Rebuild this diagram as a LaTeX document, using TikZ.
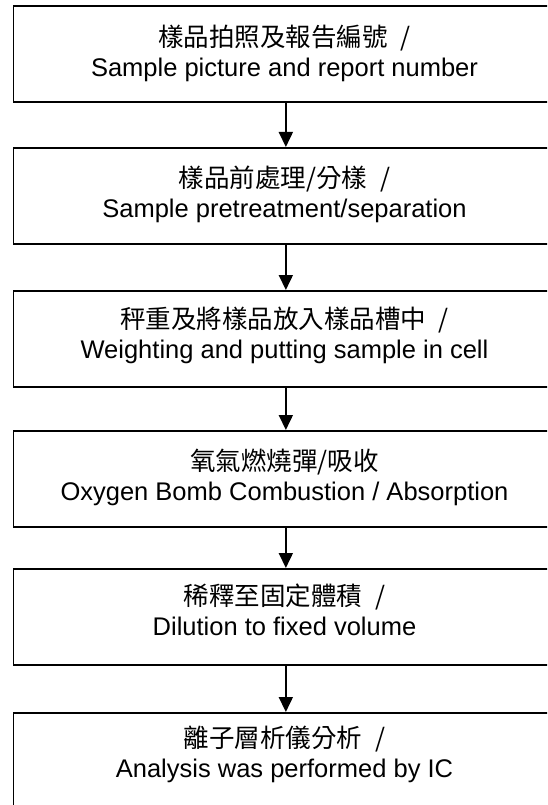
\documentclass[tikz,border=0pt]{standalone}
\usepackage{fontspec}
\setmainfont{Liberation Sans}
\newfontfamily\cjk[WordSpace=2.2]{Noto Sans CJK TC}
\usetikzlibrary{arrows.meta}
\begin{document}
\begin{tikzpicture}[x=1pt,y=-1pt,
  stepbox/.style={draw=black, line width=1.7pt, minimum width=545pt, minimum height=96pt, inner sep=0pt, anchor=north west},
  lbl/.style={align=center, font=\fontsize{25.5}{30}\selectfont, inner sep=0pt},
  arr/.style={line width=1.7pt, -{Triangle[width=14pt,length=15pt]}}]
\useasboundingbox (0,0) rectangle (547,805);
\clip (0,0) rectangle (547,805);
\node[stepbox] (b1) at (12.5,5) {};
\node[stepbox] (b2) at (12.5,147) {};
\node[stepbox] (b3) at (12.5,290) {};
\node[stepbox] (b4) at (12.5,430) {};
\node[stepbox] (b5) at (12.5,568) {};
\node[stepbox, minimum height=130pt] (b6) at (12.5,712) {};
\node[lbl] (t1) at (284.5,53) {{\cjk 樣品拍照及報告編號 /}\rule{0pt}{22pt}\\Sample picture and report number\rule[-4pt]{0pt}{4pt}};
\node[lbl] (t2) at (284.5,194) {{\cjk 樣品前處理/分樣 /}\rule{0pt}{22pt}\\Sample pretreatment/separation\rule[-4pt]{0pt}{4pt}};
\node[lbl] (t3) at (284.5,335) {{\cjk 秤重及將樣品放入樣品槽中 /}\rule{0pt}{22pt}\\Weighting and putting sample in cell\rule[-4pt]{0pt}{4pt}};
\node[lbl] (t4) at (284.5,477.5) {{\cjk 氧氣燃燒彈/吸收}\rule{0pt}{22pt}\\Oxygen Bomb Combustion / Absorption\rule[-4pt]{0pt}{4pt}};
\node[lbl] (t5) at (284.5,611.5) {{\cjk 稀釋至固定體積 /}\rule{0pt}{22pt}\\Dilution to fixed volume\rule[-4pt]{0pt}{4pt}};
\node[lbl] (t6) at (284.5,754) {{\cjk 離子層析儀分析 /}\rule{0pt}{22pt}\\Analysis was performed by IC\rule[-4pt]{0pt}{4pt}};
\draw[arr] (b1.south) -- (b2.north);
\draw[arr] (b2.south) -- (b3.north);
\draw[arr] (b3.south) -- (b4.north);
\draw[arr] (b4.south) -- (b5.north);
\draw[arr] (b5.south) -- (b6.north);
\end{tikzpicture}
\end{document}
